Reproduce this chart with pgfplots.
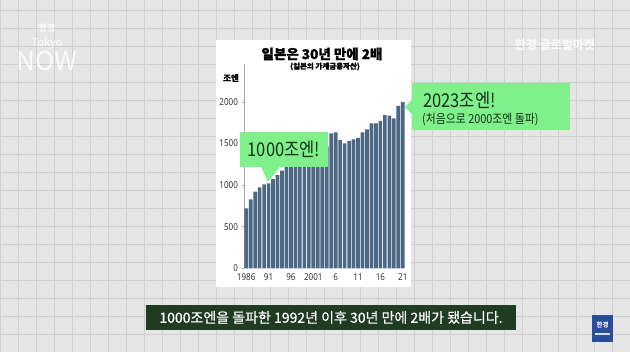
\documentclass[border=0pt]{standalone}
\usepackage{pgfplots}
\pgfplotsset{compat=1.18}
\usepackage{fontspec}
\setmainfont{Noto Sans CJK KR}
\newfontfamily\heavy{Noto Sans CJK KR}[BoldFeatures={FakeBold=1.2}]
\newfontfamily\capfont{Noto Sans CJK KR}[FakeBold=0.5]
\newfontfamily\tickfont{Noto Sans}[FakeStretch=0.85]
\newfontfamily\callfont{Noto Sans CJK KR}[FakeStretch=0.87]
\definecolor{barblue}{HTML}{4D6884}
\definecolor{callgreen}{HTML}{80F08A}
\definecolor{calltext}{HTML}{123018}
\definecolor{capgreen}{HTML}{1F3B21}
\definecolor{bggray}{HTML}{E6E6E6}
\definecolor{gridgray}{HTML}{CFCFCF}
\definecolor{logoblue}{HTML}{2B4C9B}
\pgfplotstableread{
year value
1986 720
1987 828
1988 920
1989 972
1990 1008
1991 1020
1992 1072
1993 1120
1994 1172
1995 1225
1996 1240
1997 1260
1998 1290
1999 1365
2000 1390
2001 1415
2002 1405
2003 1430
2004 1465
2005 1620
2006 1632
2007 1540
2008 1500
2009 1531
2010 1548
2011 1567
2012 1632
2013 1668
2014 1740
2015 1740
2016 1771
2017 1840
2018 1832
2019 1800
2020 1951
2021 1995
}\assets
\begin{document}
\begin{tikzpicture}[x=1pt,y=1pt]
\clip (0,0) rectangle (630,352);
\fill[bggray] (0,0) rectangle (630,352);
\draw[gridgray, line width=0.5pt] (0,0) grid[step=18pt] (630,352);
% faint logos
\node[text=white, opacity=0.85, font=\bfseries\fontsize{9}{10}\selectfont] at (47,324) {한경};
\node[text=white, opacity=0.85, font=\fontsize{11}{12}\selectfont] at (47,309) {Tokyo};
\node[text=white, opacity=0.85, font=\fontsize{26}{28}\selectfont] at (47,291) {NOW};
\node[text=white, opacity=0.8, font=\bfseries\fontsize{12}{13}\selectfont] at (555,307) {한경 글로벌마켓};
\fill[logoblue] (592,10) rectangle (613,37);
\node[text=white, font=\bfseries\fontsize{6.5}{7}\selectfont] at (602.5,27) {한경};
\fill[white!80!logoblue] (595,17) rectangle (610,19);
% white chart panel
\fill[white] (216,65) rectangle (411,312);
\node[font=\heavy\bfseries\fontsize{13.5}{14}\selectfont] at (322,298) {일본은 30년 만에 2배};
\node[font=\heavy\bfseries\fontsize{7.5}{8}\selectfont] at (325,285.5) {(일본의 가계금융자산)};
\node[font=\heavy\bfseries\fontsize{8.5}{9}\selectfont] at (231,274) {조엔};
\begin{axis}[
  at={(244pt,83.7pt)}, anchor=south west,
  scale only axis, width=161pt, height=204pt,
  xmin=1985.5, xmax=2021.5, ymin=0, ymax=2450,
  axis x line*=bottom, axis y line*=left,
  x axis line style={draw=none},
  y axis line style={draw=gray!70, line width=0.5pt},
  xtick={1986,1991,1996,2001,2006,2011,2016,2021},
  xticklabels={1986,91,96,2001,6,11,16,21},
  xtick style={draw=none},
  ytick={0,500,1000,1500,2000},
  yticklabels={0,500,1000,1500,2000},
  ytick style={draw=gray!70, line width=0.5pt},
  tick align=outside, major tick length=2.5pt,
  /pgf/number format/assume math mode=true,
  xticklabel style={font=\tickfont\fontsize{9.5}{10}\selectfont, text=black!80, yshift=1pt},
  yticklabel style={font=\tickfont\fontsize{9.5}{10}\selectfont, text=black!80},
  clip=false,
]
\addplot[ybar, bar width=0.82, fill=barblue, draw=none] table[x=year, y=value] {\assets};
\end{axis}
% callout 1
\fill[callgreen] (240,185) rectangle (328,220);
\fill[callgreen] (261,185.5) -- (280,185.5) -- (268,170) -- cycle;
\node[font=\callfont\fontsize{19}{20}\selectfont, text=calltext] at (284,202.5) {1000조엔!};
% callout 2
\fill[callgreen] (412,222) rectangle (570,269);
\fill[callgreen] (412.5,253) -- (412.5,237) -- (405,245) -- cycle;
\node[font=\callfont\fontsize{19}{20}\selectfont, text=calltext, anchor=base west, inner sep=0pt] at (423,244) {2023조엔!};
\node[font=\callfont\fontsize{12.5}{13}\selectfont, text=calltext, anchor=base west, inner sep=0pt] at (422,228) {(처음으로 2000조엔 돌파)};
% caption
\fill[capgreen] (146,22) rectangle (516,47);
\node[text=white, font=\capfont\fontsize{14}{15}\selectfont] at (331,34.5) {1000조엔을 돌파한 1992년 이후 30년 만에 2배가 됐습니다.};
\end{tikzpicture}
\end{document}
